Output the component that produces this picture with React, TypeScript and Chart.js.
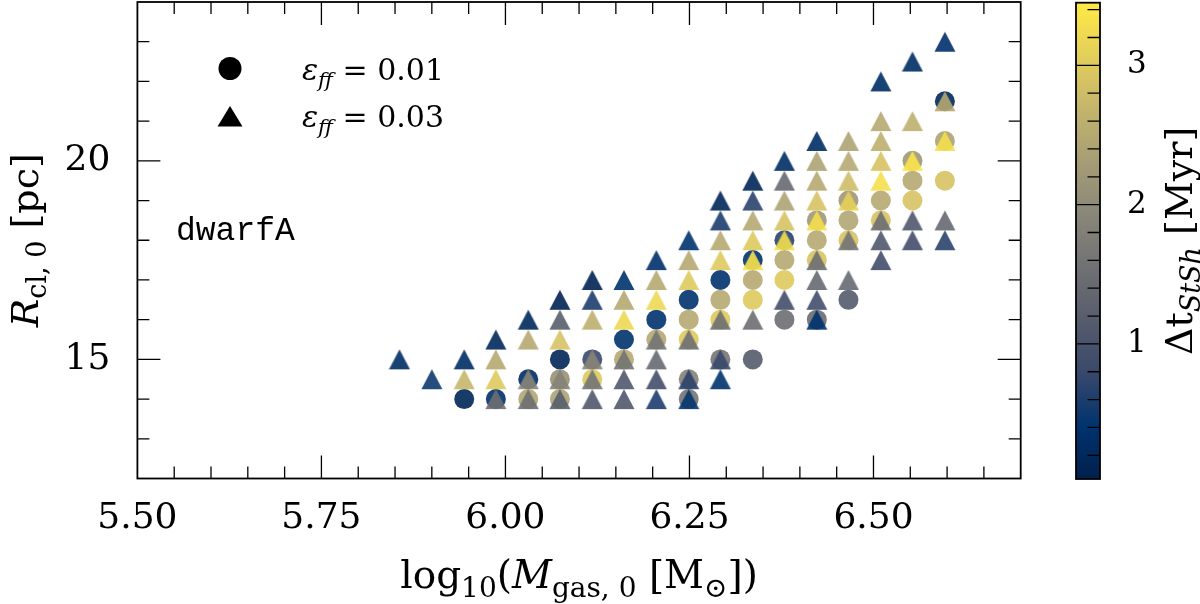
import { useEffect, useRef } from "react";
import { Chart, registerables } from "chart.js";

Chart.register(...registerables);

// ---------- data ----------
// circles: eps_ff = 0.01
const CIRCLE_LOGM = [
  5.944, 5.987, 6.031, 6.031, 6.074, 6.074, 6.074, 6.118, 6.118, 6.161, 6.161, 6.205, 6.205,
  6.249, 6.249, 6.249, 6.249, 6.249, 6.292, 6.292, 6.292, 6.292, 6.336, 6.336, 6.336, 6.336,
  6.379, 6.379, 6.379, 6.379, 6.423, 6.423, 6.423, 6.423, 6.466, 6.466, 6.466, 6.466,
  6.510, 6.510, 6.553, 6.553, 6.553, 6.597, 6.597, 6.597,
];
const CIRCLE_R = [
  14.0, 14.0, 14.5, 14.0, 15.0, 14.5, 14.0, 15.0, 14.5, 15.5, 15.0, 16.0, 15.5,
  16.5, 16.0, 15.5, 14.5, 14.0, 17.0, 16.5, 16.0, 15.0, 17.5, 17.0, 16.5, 15.0,
  18.0, 17.5, 17.0, 16.0, 18.5, 18.0, 17.5, 16.0, 19.0, 18.5, 18.0, 16.5,
  19.0, 18.5, 20.0, 19.5, 19.0, 21.5, 20.5, 19.5,
];
const CIRCLE_DT = [
  0.15, 0.35, 0.30, 2.45, 0.15, 2.10, 2.40, 0.80, 3.00, 0.40, 2.50, 0.40, 2.50,
  0.40, 2.50, 3.00, 1.85, 1.60, 0.40, 2.50, 3.00, 1.60, 0.40, 2.50, 3.00, 1.15,
  0.70, 2.50, 3.00, 1.50, 2.20, 2.50, 2.90, 1.45, 2.20, 2.45, 2.90, 1.15,
  2.50, 2.90, 2.20, 2.50, 2.90, 0.20, 2.40, 2.90,
];

// triangles: eps_ff = 0.03
const TRIANGLE_LOGM = [
  5.856,
  5.900,
  5.944, 5.944,
  5.987, 5.987, 5.987, 5.987,
  6.031, 6.031, 6.031, 6.031,
  6.074, 6.074, 6.074, 6.074, 6.074,
  6.118, 6.118, 6.118, 6.118, 6.118, 6.118,
  6.161, 6.161, 6.161, 6.161, 6.161, 6.161,
  6.205, 6.205, 6.205, 6.205, 6.205, 6.205, 6.205,
  6.249, 6.249, 6.249, 6.249, 6.249, 6.249,
  6.292, 6.292, 6.292, 6.292, 6.292, 6.292, 6.292,
  6.336, 6.336, 6.336, 6.336, 6.336, 6.336,
  6.379, 6.379, 6.379, 6.379, 6.379, 6.379,
  6.423, 6.423, 6.423, 6.423, 6.423, 6.423, 6.423, 6.423, 6.423,
  6.466, 6.466, 6.466, 6.466, 6.466, 6.466,
  6.510, 6.510, 6.510, 6.510, 6.510, 6.510, 6.510, 6.510,
  6.553, 6.553, 6.553, 6.553, 6.553,
  6.597, 6.597, 6.597, 6.597, 6.597,
];
const TRIANGLE_R = [
  15.0,
  14.5,
  15.0, 14.5,
  15.5, 15.0, 14.5, 14.0,
  16.0, 15.5, 14.5, 14.0,
  16.5, 16.0, 15.5, 14.5, 14.0,
  17.0, 16.5, 16.0, 15.0, 14.5, 14.0,
  17.0, 16.5, 16.0, 15.0, 14.5, 14.0,
  17.5, 17.0, 16.5, 15.5, 15.0, 14.5, 14.0,
  18.0, 17.5, 17.0, 15.5, 14.5, 14.0,
  19.0, 18.5, 18.0, 17.5, 16.0, 15.0, 14.5,
  19.5, 19.0, 18.5, 18.0, 17.5, 16.0,
  20.0, 19.5, 19.0, 18.5, 18.0, 16.5,
  20.5, 20.0, 19.5, 19.0, 18.5, 17.5, 17.0, 16.5, 16.0,
  20.5, 20.0, 19.5, 19.0, 18.0, 17.0,
  22.0, 21.0, 20.5, 20.0, 19.5, 18.5, 18.0, 17.5,
  22.5, 21.0, 20.0, 18.5, 18.0,
  23.0, 21.5, 20.5, 18.5, 18.0,
];
const TRIANGLE_DT = [
  0.30,
  0.50,
  0.30, 2.70,
  0.20, 2.50, 3.00, 1.50,
  0.20, 2.50, 1.90, 1.50,
  0.10, 1.20, 2.90, 1.85, 1.20,
  0.10, 0.60, 2.60, 1.90, 1.60, 1.10,
  0.40, 2.50, 3.20, 1.60, 1.10, 1.10,
  0.35, 2.50, 3.20, 1.60, 1.40, 0.90, 0.60,
  0.40, 2.50, 3.00, 1.50, 0.70, 0.45,
  0.15, 0.60, 2.50, 3.00, 1.50, 0.80, 0.40,
  0.15, 0.70, 2.50, 3.00, 3.35, 1.50,
  0.30, 1.40, 2.40, 2.90, 3.30, 0.90,
  0.30, 2.40, 2.50, 2.90, 3.30, 1.50, 1.40, 0.90, 0.40,
  2.40, 2.50, 2.80, 3.10, 1.60, 1.40,
  0.30, 2.50, 2.60, 2.90, 3.30, 1.50, 1.10, 0.90,
  0.30, 2.60, 3.40, 1.10, 0.90,
  0.35, 2.50, 3.30, 1.40, 0.70,
];

// axes / ticks
const X_MAJOR_TICKS = [5.5, 5.75, 6.0, 6.25, 6.5];
const X_TICK_LABELS = ["5.50", "5.75", "6.00", "6.25", "6.50"];
const Y_MAJOR_TICKS = [15, 20];
const Y_TICK_LABELS = ["15", "20"];
const CBAR_TICKS = [1, 2, 3];
const CBAR_TICK_LABELS = ["1", "2", "3"];
const LEGEND_LABELS = ["0.01", "0.03"];
const PANEL_LABEL = "dwarfA";

const X_MIN = 5.5, X_MAX = 6.7, X_MINOR_STEP = 0.05;
const Y_MIN = 12, Y_MAX = 24, Y_MINOR_STEP = 1;
const DT_MIN = 0.03, DT_MAX = 3.45, DT_MINOR_STEP = 0.2;

// ---------- styling ----------
const SERIF = '"DejaVu Serif", "Liberation Serif", serif';
const MONO = '"Liberation Mono", "DejaVu Sans Mono", monospace';
const CIVIDIS = ["#00204D", "#00336F", "#39486B", "#575C6D", "#707173", "#8A8779", "#A69D75", "#C4B56C", "#E4CF5B", "#FFEA46"];
const MARKER_ALPHA = 0.9;

function hexToRgb(h: string) {
  return [parseInt(h.slice(1, 3), 16), parseInt(h.slice(3, 5), 16), parseInt(h.slice(5, 7), 16)];
}
const CIV_RGB = CIVIDIS.map(hexToRgb);

function cividis(t: number) {
  const tt = Math.max(0, Math.min(1, t)) * (CIV_RGB.length - 1);
  const i = Math.min(CIV_RGB.length - 2, Math.floor(tt));
  const f = tt - i;
  const a = CIV_RGB[i], b = CIV_RGB[i + 1];
  return [0, 1, 2].map((k) => Math.round(a[k] + (b[k] - a[k]) * f));
}
function dtColor(v: number, alpha: number) {
  const [r, g, b] = cividis((v - DT_MIN) / (DT_MAX - DT_MIN));
  return `rgba(${r},${g},${b},${alpha})`;
}

const triCache = new Map<string, HTMLCanvasElement>();
function triangleImage(color: string) {
  let c = triCache.get(color);
  if (c) return c;
  c = document.createElement("canvas");
  c.width = 22;
  c.height = 22;
  const g = c.getContext("2d")!;
  g.beginPath();
  g.moveTo(11, 1);
  g.lineTo(21.5, 21);
  g.lineTo(0.5, 21);
  g.closePath();
  g.fillStyle = color;
  g.fill();
  triCache.set(color, c);
  return c;
}

type Part = { t: string; italic?: boolean; sub?: boolean };
function drawRich(
  ctx: CanvasRenderingContext2D,
  parts: Part[],
  x: number,
  y: number,
  size: number,
  subSize: number,
  align: "left" | "center",
  family: string
) {
  const fontFor = (p: Part) => `${p.italic ? "italic " : ""}${p.sub ? subSize : size}px ${family}`;
  ctx.textAlign = "left";
  ctx.textBaseline = "alphabetic";
  const widths = parts.map((p) => {
    ctx.font = fontFor(p);
    return ctx.measureText(p.t).width;
  });
  const total = widths.reduce((s, w) => s + w, 0);
  let cx = align === "center" ? x - total / 2 : x;
  parts.forEach((p, i) => {
    ctx.font = fontFor(p);
    ctx.fillText(p.t, cx, y + (p.sub ? size * 0.22 : 0));
    cx += widths[i];
  });
}

function rangeTicks(min: number, max: number, step: number) {
  const out: number[] = [];
  const n = Math.round((max - min) / step);
  for (let i = 0; i <= n; i++) out.push(Math.round((min + i * step) * 1000) / 1000);
  return out;
}
const isIn = (arr: number[], v: number) => arr.some((a) => Math.abs(a - v) < 1e-6);

const decorPlugin = {
  id: "decor",
  afterDraw(chart: any) {
    const ctx: CanvasRenderingContext2D = chart.ctx;
    const { left, right, top, bottom } = chart.chartArea;
    const xs = chart.scales.x;
    const ys = chart.scales.y;
    ctx.save();
    ctx.strokeStyle = "#000";
    ctx.fillStyle = "#000";

    // inward ticks on all four sides
    ctx.lineWidth = 1.3;
    ctx.beginPath();
    rangeTicks(X_MIN, X_MAX, X_MINOR_STEP).forEach((v) => {
      if (v <= X_MIN + 1e-6 || v >= X_MAX - 1e-6) return;
      const px = xs.getPixelForValue(v);
      const len = isIn(X_MAJOR_TICKS, v) ? 23 : 12;
      ctx.moveTo(px, bottom);
      ctx.lineTo(px, bottom - len);
      ctx.moveTo(px, top);
      ctx.lineTo(px, top + len);
    });
    rangeTicks(Y_MIN, Y_MAX, Y_MINOR_STEP).forEach((v) => {
      if (v <= Y_MIN + 1e-6 || v >= Y_MAX - 1e-6) return;
      const py = ys.getPixelForValue(v);
      const len = isIn(Y_MAJOR_TICKS, v) ? 23 : 12;
      ctx.moveTo(left, py);
      ctx.lineTo(left + len, py);
      ctx.moveTo(right, py);
      ctx.lineTo(right - len, py);
    });
    ctx.stroke();

    // frame
    ctx.lineWidth = 1.8;
    ctx.strokeRect(left, top, right - left, bottom - top);

    // legend
    ctx.beginPath();
    ctx.arc(230, 68.5, 11.5, 0, Math.PI * 2);
    ctx.fill();
    ctx.beginPath();
    ctx.moveTo(230, 106);
    ctx.lineTo(242.5, 126.5);
    ctx.lineTo(217.5, 126.5);
    ctx.closePath();
    ctx.fill();
    const legendY = [80, 127];
    LEGEND_LABELS.forEach((lab, i) => {
      drawRich(ctx, [{ t: "ε", italic: true }, { t: "ff", italic: true, sub: true }, { t: " = " + lab }], 302, legendY[i], 30, 21, "left", SERIF);
    });

    // panel label
    ctx.font = `33px ${MONO}`;
    ctx.textAlign = "left";
    ctx.textBaseline = "alphabetic";
    ctx.fillText(PANEL_LABEL, 176, 240);

    // x title
    drawRich(
      ctx,
      [
        { t: "log" },
        { t: "10", sub: true },
        { t: "(" },
        { t: "M", italic: true },
        { t: "gas, 0", sub: true },
        { t: " [M" },
        { t: "⊙", sub: true },
        { t: "])" },
      ],
      (left + right) / 2,
      588,
      39,
      28,
      "center",
      SERIF
    );

    // y title
    ctx.save();
    ctx.translate(38, (top + bottom) / 2);
    ctx.rotate(-Math.PI / 2);
    drawRich(ctx, [{ t: "R", italic: true }, { t: "cl, 0", sub: true }, { t: " [pc]" }], 0, 0, 38, 27, "center", SERIF);
    ctx.restore();

    // colorbar
    const cbX = right + 55.3;
    const cbW = 24;
    const cbTop = top + 0.7;
    const cbBot = bottom + 0.5;
    const grad = ctx.createLinearGradient(0, cbBot, 0, cbTop);
    CIVIDIS.forEach((c, i) => grad.addColorStop(i / (CIVIDIS.length - 1), c));
    ctx.fillStyle = grad;
    ctx.fillRect(cbX, cbTop, cbW, cbBot - cbTop);
    const cbY = (v: number) => cbBot - ((v - DT_MIN) / (DT_MAX - DT_MIN)) * (cbBot - cbTop);
    ctx.strokeStyle = "#000";
    ctx.lineWidth = 1.3;
    ctx.beginPath();
    rangeTicks(0.2, 3.4, DT_MINOR_STEP).forEach((v) => {
      if (isIn(CBAR_TICKS, v)) return;
      const py = cbY(v);
      ctx.moveTo(cbX + cbW - 12.5, py);
      ctx.lineTo(cbX + cbW, py);
    });
    CBAR_TICKS.forEach((v) => {
      const py = cbY(v);
      ctx.moveTo(cbX, py);
      ctx.lineTo(cbX + cbW, py);
    });
    ctx.stroke();
    ctx.lineWidth = 1.8;
    ctx.strokeRect(cbX, cbTop, cbW, cbBot - cbTop);
    ctx.fillStyle = "#000";
    ctx.font = `31px ${SERIF}`;
    ctx.textAlign = "left";
    ctx.textBaseline = "middle";
    CBAR_TICKS.forEach((v, i) => ctx.fillText(CBAR_TICK_LABELS[i], cbX + cbW + 27, cbY(v)));

    // colorbar title
    ctx.save();
    ctx.translate(1192, (cbTop + cbBot) / 2);
    ctx.rotate(-Math.PI / 2);
    drawRich(ctx, [{ t: "Δt" }, { t: "StSh", italic: true, sub: true }, { t: " [Myr]" }], 0, 0, 38, 27, "center", SERIF);
    ctx.restore();

    ctx.restore();
  },
};

const zeroPad = (s: any) => {
  s.paddingTop = 0;
  s.paddingBottom = 0;
  s.paddingLeft = 0;
  s.paddingRight = 0;
};

export default function App() {
  const ref = useRef<HTMLCanvasElement | null>(null);

  useEffect(() => {
    if (!ref.current) return;
    const triangles = TRIANGLE_LOGM.map((x, i) => ({ x, y: TRIANGLE_R[i] }));
    const circles = CIRCLE_LOGM.map((x, i) => ({ x, y: CIRCLE_R[i] }));

    const chart = new Chart(ref.current, {
      type: "scatter",
      data: {
        datasets: [
          {
            label: "eps_ff = 0.03",
            data: triangles,
            order: 0,
            pointRadius: 10,
            borderWidth: 0,
            pointStyle: (c: any) =>
              c.dataIndex === undefined ? "triangle" : triangleImage(dtColor(TRIANGLE_DT[c.dataIndex], MARKER_ALPHA)),
            backgroundColor: (c: any) =>
              c.dataIndex === undefined ? "#000" : dtColor(TRIANGLE_DT[c.dataIndex], MARKER_ALPHA),
          } as any,
          {
            label: "eps_ff = 0.01",
            data: circles,
            order: 1,
            pointRadius: 10,
            pointStyle: "circle",
            borderWidth: 0,
            backgroundColor: (c: any) =>
              c.dataIndex === undefined ? "#000" : dtColor(CIRCLE_DT[c.dataIndex], MARKER_ALPHA),
          } as any,
        ],
      },
      options: {
        animation: false,
        responsive: false,
        devicePixelRatio: 1,
        events: [],
        layout: { autoPadding: false, padding: { top: 2, right: 179.3, left: 0, bottom: 0 } },
        plugins: { legend: { display: false }, tooltip: { enabled: false } },
        scales: {
          x: {
            type: "linear",
            min: X_MIN,
            max: X_MAX,
            grid: { display: false, drawTicks: false },
            border: { display: false },
            afterBuildTicks: (s: any) => {
              s.ticks = rangeTicks(X_MIN, X_MAX, X_MINOR_STEP).map((v) => ({ value: v }));
            },
            afterFit: (s: any) => {
              s.height = 125.5;
              zeroPad(s);
            },
            ticks: {
              autoSkip: false,
              maxRotation: 0,
              minRotation: 0,
              padding: 19,
              color: "#000",
              font: { family: SERIF, size: 36 },
              callback: (v: any) => {
                const idx = X_MAJOR_TICKS.findIndex((m) => Math.abs(m - Number(v)) < 1e-6);
                return idx >= 0 ? X_TICK_LABELS[idx] : null;
              },
            },
          },
          y: {
            type: "linear",
            min: Y_MIN,
            max: Y_MAX,
            grid: { display: false, drawTicks: false },
            border: { display: false },
            afterBuildTicks: (s: any) => {
              s.ticks = rangeTicks(Y_MIN, Y_MAX, Y_MINOR_STEP).map((v) => ({ value: v }));
            },
            afterFit: (s: any) => {
              s.width = 137.4;
              zeroPad(s);
            },
            ticks: {
              autoSkip: false,
              padding: 27,
              color: "#000",
              font: { family: SERIF, size: 36 },
              callback: (v: any) => {
                const idx = Y_MAJOR_TICKS.findIndex((m) => Math.abs(m - Number(v)) < 1e-6);
                return idx >= 0 ? Y_TICK_LABELS[idx] : null;
              },
            },
          },
        },
      } as any,
      plugins: [decorPlugin],
    });
    return () => chart.destroy();
  }, []);

  return (
    <div style={{ position: "absolute", left: 0, top: 0, width: 1200, height: 604, background: "#fff" }}>
      <canvas ref={ref} width={1200} height={604} style={{ display: "block", width: 1200, height: 604 }} />
    </div>
  );
}
